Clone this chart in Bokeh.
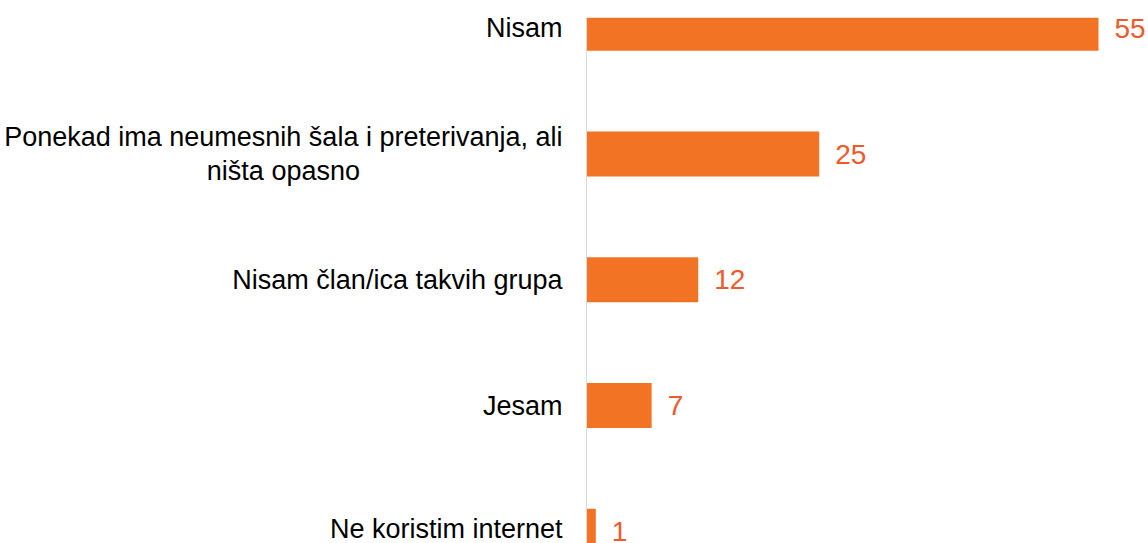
from bokeh.plotting import figure
from bokeh.models import Range1d, FixedTicker, ColumnDataSource
from bokeh.embed import file_html
from bokeh.resources import INLINE
from bokeh.core.properties import value

NB = "\u00a0"
categories = [
    "Nisam",
    "Ponekad ima neumesnih šala i preterivanja, ali\nništa opasno" + NB * 27,
    "Nisam član/ica takvih grupa",
    "Jesam",
    "Ne koristim internet",
]
values = [55, 25, 12, 7, 1]

pos = list(range(len(categories)))
src = ColumnDataSource(dict(y=pos, v=values, lab=[str(v) for v in values]))

p = figure(width=1148, height=543, output_backend="svg", toolbar_location=None,
           x_range=Range1d(0, 60.37), y_range=Range1d(4.097, -0.0855),
           min_border_left=586, min_border_right=0, min_border_top=17, min_border_bottom=0)
p.outline_line_color = None
p.background_fill_color = "white"
p.border_fill_color = "white"
p.xgrid.visible = False
p.ygrid.visible = False
p.xaxis.visible = False

p.hbar(y="y", right="v", left=0, height=0.358, source=src,
       fill_color="#F37324", line_color=None)
p.text(x="v", y="y", text="lab", source=src, x_offset=16,
       text_align="left", text_baseline="middle",
       text_font=value("Liberation Sans"), text_font_size="28px",
       text_color="#F05A2A")

ya = p.yaxis[0]
ya.ticker = FixedTicker(ticks=pos)
ya.major_label_overrides = {i: c for i, c in enumerate(categories)}
ya.major_tick_line_color = None
ya.minor_tick_line_color = None
ya.major_tick_out = 0
ya.major_tick_in = 0
ya.major_label_standoff = 24
ya.axis_line_color = "#DADADA"
ya.axis_line_width = 1
ya.major_label_text_font = "Liberation Sans"
ya.major_label_text_font_size = "27px"
ya.major_label_text_color = "#000000"
ya.major_label_text_line_height = 1.15

open("out.html", "w").write(file_html(p, INLINE))
